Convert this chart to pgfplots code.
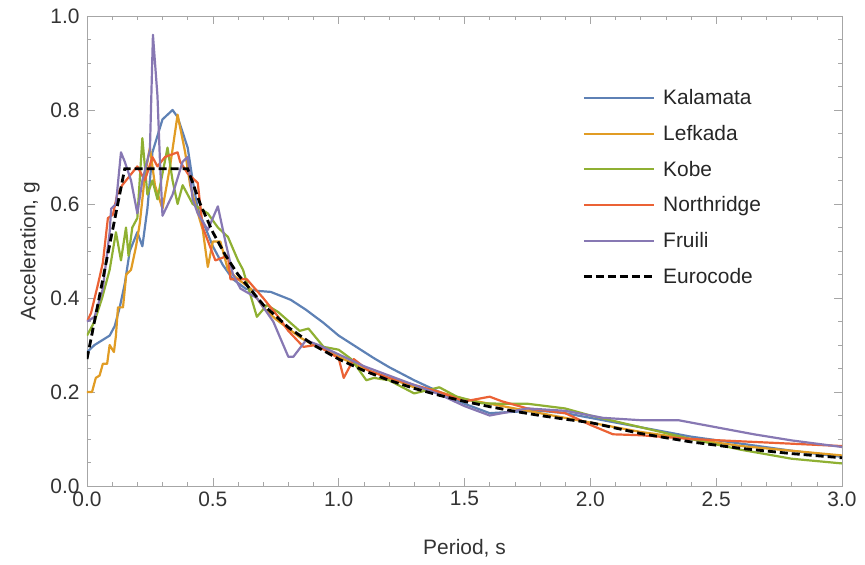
\documentclass[border=0pt]{standalone}
\usepackage{pgfplots}
\pgfplotsset{compat=1.18}
\usepackage{fontspec}
\setmainfont{Liberation Sans}
\definecolor{cKal}{HTML}{5E81B5}
\definecolor{cLef}{HTML}{E19C24}
\definecolor{cKob}{HTML}{8FB032}
\definecolor{cNor}{HTML}{EB6235}
\definecolor{cFru}{HTML}{8778B3}
\begin{document}
\begin{tikzpicture}[x=1bp,y=1bp]
\begin{axis}[
  scale only axis,
  width=755bp, height=470bp,
  xmin=0, xmax=3, ymin=0, ymax=1,
  xtick={0,0.5,...,3}, ytick={0,0.2,...,1},
  minor x tick num=4, minor y tick num=3,
  tick pos=both, xticklabel pos=lower, yticklabel pos=left,
  tick align=inside,
  major tick length=8bp, minor tick length=4bp,
  axis line style={gray!70, line width=0.6bp},
  every tick/.style={gray!70, line width=0.6bp},
  /pgf/number format/assume math mode=true,
  /pgf/number format/.cd, fixed, fixed zerofill, precision=1,
  /pgfplots/.cd,
  ticklabel style={font=\fontsize{21}{24}\selectfont, text=black!80},
  yticklabel style={xshift=-4bp},
  xticklabel style={yshift=-2bp},
  label style={font=\fontsize{21}{24}\selectfont, text=black!80},
  xlabel={Period, s}, ylabel={Acceleration, g},
  xlabel style={at={(axis description cs:0.5,-0.132)}, anchor=center},
  ylabel style={at={(axis description cs:-0.0755,0.5)}, anchor=center},
  legend style={draw=none, fill=none, at={(rel axis cs:0.652,0.852)}, anchor=north west,
    font=\fontsize{21}{24}\selectfont, text=black!85, row sep=15bp, column sep=6bp},
  legend cell align=left,
  legend image code/.code={\draw[#1] (0bp,0bp) -- (70bp,0bp);},
]
\addplot[draw=cKal, line width=2.2bp, line join=round] coordinates {
(0,0.285)(0.03,0.30)(0.06,0.31)(0.09,0.32)(0.11,0.34)(0.13,0.38)(0.15,0.43)(0.17,0.50)(0.20,0.54)(0.22,0.51)(0.24,0.59)(0.26,0.71)(0.30,0.78)(0.34,0.80)(0.36,0.785)(0.40,0.72)(0.42,0.65)(0.44,0.59)(0.47,0.55)(0.50,0.51)(0.54,0.47)(0.58,0.44)(0.63,0.42)(0.68,0.415)(0.73,0.413)(0.81,0.396)(0.87,0.375)(0.94,0.347)(1.0,0.32)(1.07,0.296)(1.14,0.272)(1.20,0.253)(1.30,0.225)(1.40,0.20)(1.50,0.175)(1.60,0.155)(1.70,0.158)(1.80,0.16)(1.90,0.155)(2.0,0.145)(2.2,0.125)(2.4,0.105)(2.6,0.09)(2.8,0.075)(3.0,0.062)};
\addlegendentry{Kalamata}
\addplot[draw=cLef, line width=2.2bp, line join=round] coordinates {
(0,0.20)(0.02,0.20)(0.035,0.23)(0.05,0.235)(0.063,0.26)(0.08,0.26)(0.09,0.30)(0.107,0.285)(0.115,0.32)(0.123,0.38)(0.143,0.38)(0.156,0.45)(0.175,0.46)(0.195,0.51)(0.21,0.56)(0.23,0.66)(0.25,0.72)(0.27,0.64)(0.30,0.59)(0.33,0.68)(0.36,0.79)(0.39,0.71)(0.41,0.64)(0.43,0.60)(0.46,0.545)(0.48,0.466)(0.50,0.52)(0.53,0.52)(0.56,0.46)(0.60,0.44)(0.65,0.42)(0.70,0.38)(0.75,0.355)(0.80,0.335)(0.85,0.315)(0.90,0.30)(0.95,0.29)(1.0,0.275)(1.1,0.25)(1.2,0.23)(1.3,0.21)(1.4,0.20)(1.5,0.185)(1.6,0.175)(1.7,0.165)(1.8,0.155)(1.9,0.145)(2.0,0.135)(2.2,0.115)(2.4,0.10)(2.6,0.085)(2.8,0.075)(3.0,0.065)};
\addlegendentry{Lefkada}
\addplot[draw=cKob, line width=2.2bp, line join=round] coordinates {
(0,0.32)(0.03,0.35)(0.06,0.40)(0.09,0.46)(0.115,0.54)(0.135,0.48)(0.155,0.55)(0.165,0.49)(0.18,0.55)(0.20,0.57)(0.22,0.74)(0.24,0.62)(0.26,0.65)(0.28,0.61)(0.32,0.72)(0.34,0.65)(0.36,0.60)(0.38,0.64)(0.42,0.60)(0.48,0.58)(0.52,0.55)(0.56,0.53)(0.60,0.48)(0.62,0.46)(0.675,0.36)(0.715,0.385)(0.76,0.37)(0.845,0.33)(0.88,0.335)(0.94,0.296)(1.0,0.29)(1.05,0.27)(1.11,0.225)(1.14,0.23)(1.20,0.225)(1.30,0.197)(1.40,0.21)(1.47,0.19)(1.57,0.176)(1.65,0.175)(1.75,0.175)(1.9,0.165)(2.0,0.15)(2.2,0.125)(2.4,0.10)(2.6,0.077)(2.8,0.058)(3.0,0.048)};
\addlegendentry{Kobe}
\addplot[draw=cNor, line width=2.2bp, line join=round] coordinates {
(0,0.35)(0.016,0.368)(0.044,0.43)(0.063,0.475)(0.083,0.57)(0.103,0.577)(0.12,0.62)(0.14,0.64)(0.17,0.66)(0.20,0.68)(0.23,0.65)(0.26,0.70)(0.28,0.68)(0.31,0.70)(0.36,0.71)(0.37,0.69)(0.40,0.665)(0.44,0.645)(0.46,0.55)(0.51,0.48)(0.56,0.49)(0.57,0.44)(0.60,0.44)(0.635,0.44)(0.70,0.40)(0.76,0.36)(0.80,0.33)(0.86,0.296)(0.91,0.30)(1.0,0.272)(1.02,0.23)(1.06,0.27)(1.12,0.245)(1.2,0.23)(1.3,0.215)(1.4,0.20)(1.5,0.18)(1.6,0.19)(1.65,0.18)(1.75,0.165)(1.9,0.155)(2.0,0.13)(2.09,0.11)(2.2,0.108)(2.4,0.10)(2.6,0.095)(2.8,0.09)(3.0,0.085)};
\addlegendentry{Northridge}
\addplot[draw=cFru, line width=2.2bp, line join=round] coordinates {
(0,0.35)(0.01,0.353)(0.03,0.36)(0.063,0.42)(0.09,0.54)(0.096,0.59)(0.115,0.60)(0.135,0.71)(0.15,0.69)(0.175,0.65)(0.20,0.58)(0.22,0.65)(0.25,0.715)(0.262,0.96)(0.28,0.83)(0.29,0.69)(0.30,0.575)(0.34,0.62)(0.38,0.69)(0.40,0.70)(0.42,0.61)(0.44,0.58)(0.48,0.545)(0.52,0.595)(0.55,0.52)(0.58,0.45)(0.61,0.42)(0.675,0.40)(0.74,0.35)(0.80,0.275)(0.82,0.275)(0.87,0.31)(0.92,0.30)(1.0,0.28)(1.1,0.255)(1.2,0.235)(1.3,0.215)(1.4,0.195)(1.5,0.17)(1.6,0.15)(1.75,0.165)(1.9,0.16)(2.05,0.145)(2.2,0.14)(2.35,0.14)(2.5,0.125)(2.65,0.11)(2.8,0.097)(3.0,0.083)};
\addlegendentry{Fruili}
\addplot[draw=black, line width=2.8bp, dash pattern=on 8bp off 4bp] coordinates {
(0,0.27)(0.15,0.675)(0.4,0.675)(0.45,0.6)(0.5,0.54)(0.55,0.4909)(0.6,0.45)(0.7,0.3857)(0.8,0.3375)(0.9,0.3)(1.0,0.27)(1.1,0.2455)(1.2,0.225)(1.3,0.2077)(1.4,0.1929)(1.5,0.18)(1.6,0.1688)(1.7,0.1588)(1.8,0.15)(1.9,0.1421)(2.0,0.135)(2.2,0.1116)(2.4,0.0938)(2.6,0.0799)(2.8,0.0689)(3.0,0.06)};
\addlegendentry{Eurocode}
\end{axis}
\pgfresetboundingbox
\path[use as bounding box] (-87bp,-79bp) rectangle (778bp,486bp);
\end{tikzpicture}
\end{document}
